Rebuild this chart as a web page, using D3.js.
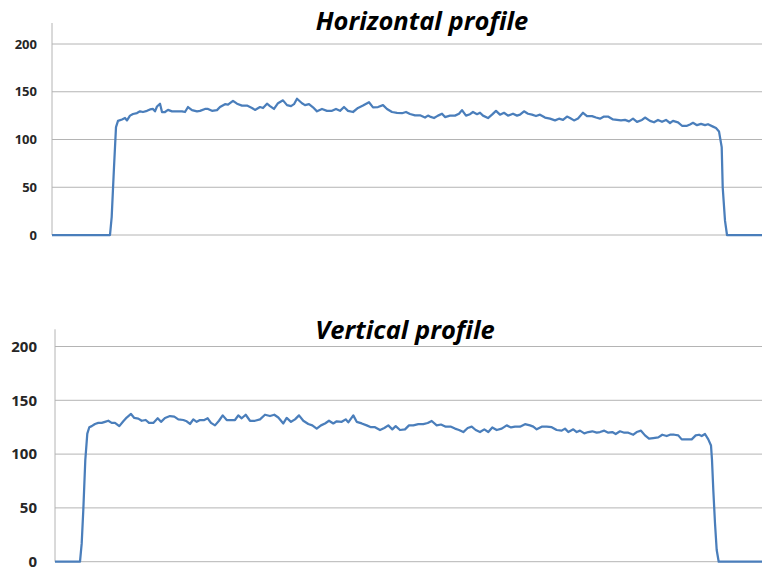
<!DOCTYPE html>
<html lang="en">
<head>
    <meta charset="utf-8">
    <script src="https://d3js.org/d3.v7.min.js"></script>
    <style>
        body { margin: 0; background: #fff; }
        svg { display: block; }
        .tick-label { font-family: "Open Sans", sans-serif; font-weight: 700; fill: #262626; }
        .title { font-family: "Open Sans", sans-serif; font-weight: 700; font-style: italic; fill: #000; }
    </style>
</head>
<body>

<div id="my_dataviz"></div>

<script>

// y tick values shared by both charts
const yTicks = [0, 50, 100, 150, 200];

// [position along profile, intensity]
const horizontalProfile = [
    [0, 0], [58, 0], [59.7, 19], [62, 71], [64, 113], [66, 119.5], [70, 121], [73, 122.5],
    [75, 120], [78, 125], [81, 126.7], [85, 127.7], [88, 129.5], [91, 128.8], [95, 130],
    [98, 131.5], [101, 132], [103, 129.5], [105, 134.5], [108, 137.5], [110, 128.8], [113, 128.8],
    [116, 131], [120, 129.5], [125, 129.5], [130, 129.5], [133, 128.8], [136, 134], [140, 130.8],
    [145, 129.5], [148, 130], [153, 132], [156, 132], [160, 130], [165, 130.8], [168, 134],
    [173, 137], [176, 136.5], [181, 140.5], [185, 137.5], [190, 135.5], [195, 135.5], [200, 133],
    [203, 131], [208, 134], [211, 133], [215, 137.5], [218, 135], [222, 132], [226, 138],
    [231, 141], [235, 136], [239, 135], [242, 137], [245, 142.7], [250, 138], [253, 136],
    [257, 137], [261, 133.7], [265, 129.5], [270, 132], [275, 130], [280, 130], [284, 132],
    [288, 130], [292, 134], [296, 130], [301, 128.8], [306, 133], [311, 135.5], [317, 139],
    [321, 133.7], [326, 134], [331, 136], [335, 132], [340, 128.8], [345, 128], [350, 127.5],
    [354, 128.8], [358, 126.7], [363, 125.3], [368, 125.3], [373, 123], [376, 125], [378, 124],
    [382, 122.5], [386, 125], [390, 127], [393, 123.5], [398, 125], [403, 125], [407, 127],
    [410, 130.8], [414, 125], [418, 126.5], [421, 128.8], [425, 126.5], [428, 128], [431, 125],
    [436, 122.5], [440, 126], [444, 130], [448, 126], [452, 128], [456, 125], [461, 127],
    [465, 125], [468, 126], [472, 129.5], [476, 127], [480, 126], [484, 124.6], [488, 126],
    [493, 123], [498, 121.8], [503, 120], [507, 121.8], [511, 120.5], [515, 124], [518, 122.5],
    [522, 120], [526, 122], [531, 128], [535, 124.5], [540, 124.5], [544, 123], [548, 121.8],
    [552, 124], [556, 124], [561, 121], [565, 120.5], [569, 120], [573, 120.5], [577, 119],
    [581, 121.8], [585, 118.5], [590, 120.5], [593, 123], [598, 119.5], [602, 118], [606, 120.5],
    [610, 118.5], [614, 120.5], [618, 117.3], [621, 119.5], [626, 118], [630, 114.4], [635, 114.4],
    [638, 115.8], [641, 117.5], [645, 115], [649, 116.3], [653, 115], [656, 116], [661, 113.5],
    [664, 112], [667, 108.5], [669.7, 92], [670.7, 50], [673, 15], [675, 0], [710, 0]
];

const verticalProfile = [
    [0, 0], [25, 0], [26.7, 17], [28.3, 48], [30.3, 94.5], [32.3, 119], [34.3, 125], [36.7, 126],
    [40, 128], [43.3, 129], [46.7, 129], [50, 130], [53.3, 131], [56.7, 129], [60, 129],
    [64.3, 126], [68.3, 130.5], [71.7, 134], [76, 137.3], [79.3, 133.6], [83.3, 133], [86.7, 131],
    [90.7, 131.7], [94, 129], [98.3, 129], [102.7, 133.3], [106, 130], [110, 133.6], [115, 135.4],
    [119.3, 134.8], [123.3, 132.3], [128.3, 131.7], [131.7, 130.5], [135, 128], [138.3, 132.3],
    [141.7, 130], [145, 131.7], [149.3, 131.7], [152.7, 133.3], [156, 129], [160, 126.7],
    [164, 131], [167.7, 136], [171.7, 131.7], [176.7, 131.7], [180, 131.7], [183.3, 136],
    [186.7, 133.3], [190.7, 136.6], [195, 131], [200, 131], [205, 132.3], [210, 136.6],
    [215, 135.4], [219.3, 136.6], [223.3, 134], [228.3, 128.5], [231.7, 133.6], [236, 130],
    [240, 132.3], [244, 136], [248.3, 131], [253.3, 128], [257.3, 126.7], [261.7, 123.7],
    [266, 126.7], [270, 128.5], [274, 131], [278.3, 128.5], [281.7, 130.5], [286.7, 130],
    [290.7, 132.3], [293.3, 129.5], [298.3, 136], [301.7, 130], [306.7, 128.5], [311.7, 126.7],
    [316, 125], [320, 125], [325, 122.4], [329.3, 124.3], [333.3, 126.7], [337.3, 123],
    [340.7, 126], [345, 122.4], [350, 123], [354, 126.7], [358.3, 126.7], [363.3, 127.8],
    [368.3, 127.8], [372.7, 128.9], [376.7, 130.8], [381.7, 126.7], [386, 127.5], [390.7, 125.5],
    [396, 125.5], [400, 123.7], [404, 122.4], [408.3, 120.5], [412.7, 124.3], [416.7, 125.5],
    [420.7, 122.4], [425, 120.5], [429.3, 123], [433.3, 120.5], [437.3, 124.8], [441.7, 122.4],
    [446.7, 123.7], [451.7, 126.7], [456, 124.8], [460, 125.5], [465, 125.5], [470, 127.8],
    [475, 126.7], [478.3, 125.5], [481.7, 123], [486.7, 125.5], [491.7, 125.5], [496.7, 125],
    [501.7, 122.4], [506.7, 121.8], [510, 123.7], [513.3, 120.5], [518.3, 123], [521.7, 120.5],
    [525, 121.8], [529.3, 119.3], [533.3, 120.5], [537.3, 121.2], [541.7, 119.9], [545, 120.5],
    [549.3, 121.8], [553.3, 119.9], [557.3, 120.5], [560.7, 118.7], [565, 121.2], [569.3, 119.9],
    [573.3, 119.9], [578.3, 118], [581.7, 120.5], [586, 121.8], [590, 117.4], [594, 114.3],
    [598.3, 114.9], [603.3, 115.5], [607.3, 118], [611.7, 116.8], [615, 118], [619.3, 118],
    [623.3, 117.4], [626.7, 113.7], [631.7, 113.7], [636.7, 113.7], [640.7, 117.4], [644, 118],
    [646.7, 116.8], [650, 118.7], [653.3, 113.7], [656, 108], [657, 94.5], [658.3, 66.6],
    [660, 35.7], [661.7, 10.9], [663.7, 0], [707, 0]
];

const width = 762;
const height = 567;

const svg = d3.select("#my_dataviz").append("svg")
    .attr("width", width)
    .attr("height", height);

// one chart per profile
const charts = [
    { title: "Horizontal profile", data: horizontalProfile, xMax: 710, yMax: 222,
      left: 52, top: 23, bottom: 235, titleX: 422, titleY: 30, titleSize: 25.5, tickSize: 13 },
    { title: "Vertical profile", data: verticalProfile, xMax: 707, yMax: 216,
      left: 55, top: 329.3, bottom: 561.7, titleX: 405, titleY: 339, titleSize: 25.5, tickSize: 15 }
];

charts.forEach(c => {
    const x = d3.scaleLinear().domain([0, c.xMax]).range([c.left, width]);
    const y = d3.scaleLinear().domain([0, c.yMax]).range([c.bottom, c.top]);

    const g = svg.append("g");

    // gridlines
    g.selectAll("line.grid")
        .data(yTicks)
        .join("line")
        .attr("class", "grid")
        .attr("x1", c.left)
        .attr("x2", width)
        .attr("y1", d => y(d))
        .attr("y2", d => y(d))
        .attr("stroke", "#b4b4b4")
        .attr("stroke-width", 1);

    // y axis line
    g.append("line")
        .attr("x1", c.left).attr("x2", c.left)
        .attr("y1", c.top).attr("y2", c.bottom)
        .attr("stroke", "#b4b4b4");

    // tick labels
    g.selectAll("text.tick-label")
        .data(yTicks)
        .join("text")
        .attr("class", "tick-label")
        .attr("x", 37)
        .attr("y", d => y(d))
        .attr("dy", "0.35em")
        .attr("text-anchor", "end")
        .style("font-size", c.tickSize + "px")
        .text(d => d);

    // the profile line
    const line = d3.line()
        .x(d => x(d[0]))
        .y(d => y(d[1]));

    g.append("path")
        .datum(c.data)
        .attr("fill", "none")
        .attr("stroke", "#4a7ebb")
        .attr("stroke-width", 2.25)
        .attr("stroke-linejoin", "round")
        .attr("d", line);

    g.append("text")
        .attr("class", "title")
        .attr("x", c.titleX)
        .attr("y", c.titleY)
        .attr("text-anchor", "middle")
        .style("font-size", c.titleSize + "px")
        .text(c.title);
});

</script>
</body>
</html>
